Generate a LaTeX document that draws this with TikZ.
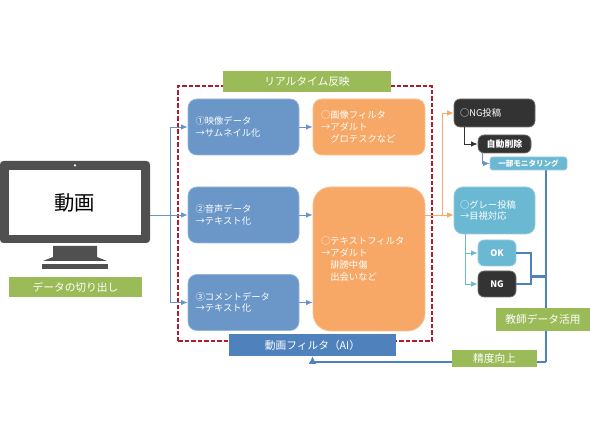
\documentclass[tikz,border=0pt]{standalone}
\usepackage{fontspec}
\setmainfont{Noto Sans CJK JP}
\usetikzlibrary{arrows.meta,backgrounds}
\definecolor{boxblue}{HTML}{6A96C8}
\definecolor{deepblue}{HTML}{4F81BD}
\definecolor{boxorange}{HTML}{F7A866}
\definecolor{boxteal}{HTML}{6BB8D2}
\definecolor{boxdark}{HTML}{333333}
\definecolor{boxgreen}{HTML}{9BBB59}
\definecolor{screengray}{HTML}{505050}
\definecolor{dashred}{HTML}{B01C2E}

\begin{document}
\begin{tikzpicture}[
        panel/.style={rectangle, rounded corners=3.5pt, inner sep=0pt, text=white,
            align=left, font=\fontsize{5.3}{6.7}\selectfont},
        bluebox/.style={panel, fill=boxblue, draw=boxblue!70!white, text width=1.92cm,
            minimum width=2.22cm, minimum height=1.12cm, rounded corners=5pt},
        orangebox/.style={panel, fill=boxorange, draw=boxorange!70!white, text width=1.92cm,
            minimum width=2.24cm, rounded corners=5pt},
        tealbox/.style={panel, fill=boxteal, draw=boxteal!70!white},
        darkbox/.style={panel, fill=boxdark, draw=boxdark!70!white},
        tag/.style={rectangle, inner sep=0pt, text=white, align=center,
            font=\fontsize{6.1}{7}\selectfont},
        greentag/.style={tag, fill=boxgreen},
        small/.style={align=center, font=\fontsize{5.1}{6}\selectfont\bfseries},
        arr/.style={-{Latex[length=1.3mm,width=1.1mm]}, line width=0.5pt, deepblue!85!white},
        arrorange/.style={arr, boxorange},
        arrdark/.style={arr, boxdark},
        arrteal/.style={arr, boxteal},
        feedback/.style={line width=1.2pt, deepblue}
      ]
      \useasboundingbox (0,0) rectangle (11.8,8.86);

      % Real-time frame and its labels
      \node[rectangle, draw=dashred, dash pattern=on 2.6pt off 1.1pt, line width=0.8pt,
            minimum width=5.08cm, minimum height=5.10cm] at (6.10, 4.59) (frame) {};
      \node[greentag, minimum width=3.36cm, minimum height=0.42cm] at (6.14, 7.23) (realtime) {リアルタイム反映};
      \node[tag, fill=deepblue, minimum width=3.34cm, minimum height=0.44cm] at (6.25, 1.96) (filter) {動画フィルタ（AI）};

      % Monitor
      \node[rectangle, fill=screengray, rounded corners=2pt, minimum width=3.0cm,
            minimum height=1.64cm] at (1.5, 4.82) (monitor) {};
      \node[rectangle, fill=white, inner sep=0pt, minimum width=2.64cm, minimum height=1.30cm,
            font=\fontsize{11.6}{14}\selectfont] at (1.5, 4.81) (screen) {\raisebox{1pt}{動画}};
      \node[circle, fill=white, inner sep=0pt, minimum size=0.05cm] at (1.5, 5.55) (camera) {};
      \fill[screengray] (1.06,3.94) -- (1.94,3.94) -- (1.94,3.72) -- (2.14,3.64)
        -- (0.86,3.64) -- (1.06,3.72) -- cycle;
      \fill[screengray] (0.84,3.58) rectangle (2.16,3.48);
      \node[greentag, minimum width=2.66cm, minimum height=0.40cm] at (1.51, 3.12) (cutout) {データの切り出し};

      % Input data
      \node[bluebox] at (4.87, 6.32) (video)   {①映像データ\\→サムネイル化};
      \node[bluebox] at (4.87, 4.56) (audio)   {②音声データ\\→テキスト化};
      \node[bluebox] at (4.87, 2.81) (comment) {③コメントデータ\\→テキスト化};

      % Filters
      \node[orangebox, minimum height=1.12cm] at (7.38, 6.32) (imagef)
        {○画像フィルタ\\→アダルト\\\hspace*{1em}グロテスクなど};
      \node[orangebox, minimum height=2.88cm, rounded corners=10pt] at (7.38, 3.68) (textf)
        {○テキストフィルタ\\→アダルト\\\hspace*{1em}誹謗中傷\\\hspace*{1em}出会いなど};

      % Results
      \node[darkbox, text width=1.38cm, minimum width=1.62cm, minimum height=0.56cm] at (9.89, 6.60) (ngpost) {○NG投稿};
      \node[darkbox, small, minimum width=1.06cm, minimum height=0.36cm] at (10.09, 5.98) (autodel) {自動削除};
      \node[tealbox, small, font=\fontsize{4.3}{5}\selectfont\bfseries, rounded corners=1.5pt,
            minimum width=1.54cm, minimum height=0.26cm] at (10.57, 5.59) (monitoring) {一部モニタリング};
      \node[tealbox, text width=1.38cm, minimum width=1.62cm, minimum height=0.94cm,
            rounded corners=5pt] at (9.89, 4.65) (graypost) {○グレー投稿\\→目視対応};
      \node[tealbox, small, minimum width=0.76cm, minimum height=0.52cm] at (9.94, 3.80) (okbox) {OK};
      \node[darkbox, small, minimum width=0.76cm, minimum height=0.52cm] at (9.94, 3.18) (ngbox) {NG};
      \node[greentag, minimum width=1.88cm, minimum height=0.46cm] at (10.86, 2.47) (teacher) {教師データ活用};
      \node[greentag, minimum width=1.70cm, minimum height=0.34cm] at (9.89, 1.69) (accuracy) {精度向上};

      % Branch points
      \coordinate (split) at (3.40, 4.56);
      \coordinate (orangebus) at (8.84, 4.56);
      \coordinate (trunk) at (10.92, 3.33);
      \coordinate (okbar) at (10.62, 3.33);
      \coordinate (trunkend) at (10.92, 1.62);
      \coordinate (darkdrop) at (9.28, 5.98);
      \coordinate (bluedrop) at (9.64, 5.59);
      \coordinate (tealdrop) at (9.30, 3.80);

      % Monitor to input data
      \draw[arr, -] (split -| monitor.east) -- (split);
      \draw[arr] (split) |- (video.west);
      \draw[arr] (split) -- (audio.west);
      \draw[arr] (split) |- (comment.west);

      % Input data to filters
      \draw[arr] (video)   -- (imagef);
      \draw[arr] (audio)   -- (audio -| textf.west);
      \draw[arr] (comment) -- (comment -| textf.west);

      % Filters to results
      \draw[arrorange, -] (orangebus -| textf.east) -- (orangebus);
      \draw[arrorange] (orangebus) |- (ngpost.west);
      \draw[arrorange] (orangebus) -- (orangebus -| graypost.west);
      \draw[arrdark] (ngpost.south -| darkdrop) -- (darkdrop) -- (autodel.west);
      \draw[arr] (autodel.south -| bluedrop) -- (bluedrop) -- (monitoring.west);
      \draw[arrteal] (graypost.south -| tealdrop) -- (tealdrop) -- (okbox.west);
      \draw[arrteal] (tealdrop) |- (ngbox.west);

      % Teacher data feedback
      \begin{scope}[on background layer]
        \draw[feedback] (monitoring.south -| trunk) -- (trunkend);
        \draw[feedback, -{Latex[length=1.5mm,width=1.6mm]}] (trunkend) -- (trunkend -| filter.south) -- (filter.south);
      \end{scope}
      \draw[feedback] (okbox.east) -| (okbar) |- (ngbox.east);
      \draw[feedback] (okbar) -- (trunk);
    \end{tikzpicture}
\end{document}
